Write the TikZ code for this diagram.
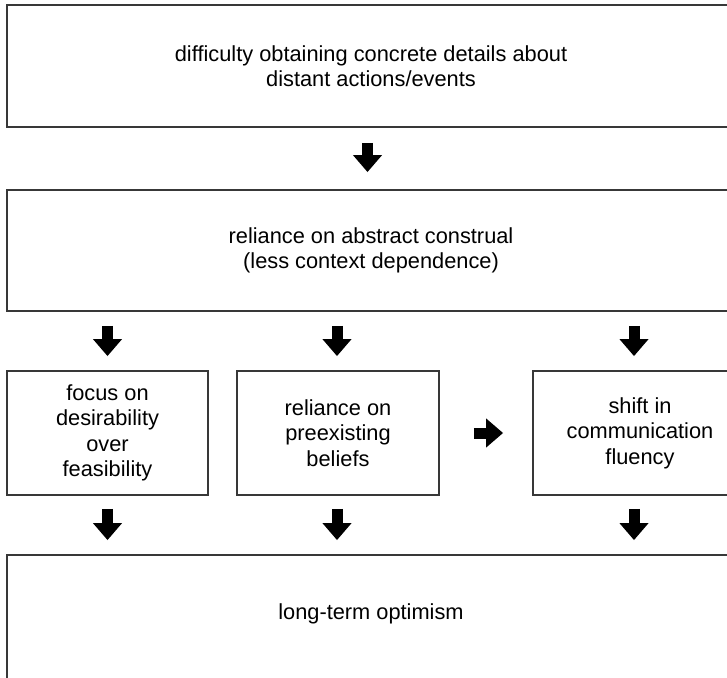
\documentclass[tikz,border=0pt]{standalone}
\usepackage{fontspec}
\setmainfont{Liberation Sans}
\usetikzlibrary{arrows.meta}
\tikzset{
  box/.style={draw=black!78, line width=1.8pt, rectangle, align=center, inner sep=0pt,
    font=\fontsize{21.8}{25.5}\selectfont},
  txt/.style={align=center, inner sep=0pt, font=\fontsize{21.8}{25.5}\selectfont},
  bigarrow/.style={draw=black, line width=11pt, line cap=butt,
    -{Triangle[width=28pt,length=17pt]}}
}
\begin{document}
\begin{tikzpicture}[x=1pt,y=-1pt]
\useasboundingbox (0,0) rectangle (727,677);
\node[box, minimum width=728pt, minimum height=122pt] (b1) at (371,66)
  {difficulty obtaining concrete details about\\distant actions/events};
\node[box, minimum width=728pt, minimum height=121pt] (b2) at (371,250.5)
  {reliance on abstract construal\\(less context dependence)};
\node[box, minimum width=201pt, minimum height=124pt] (b3) at (107.5,433)
  {focus on\\desirability\\over\\feasibility};
\node[box, minimum width=202pt, minimum height=124pt] (b4) at (338,433)
  {reliance on\\preexisting\\beliefs};
\node[box, minimum width=214pt, minimum height=124pt] (b5) at (640,433)
  {shift in\\communication\\fluency};
\node[box, minimum width=728pt, minimum height=140pt] (b6) at (371,625) {};
\node[txt] (t6) at (371,614) {long-term optimism};
% arrows
\draw[bigarrow, shorten <=15pt, shorten >=17pt] ([xshift=-3.5pt]b1.south) -- ([xshift=-3.5pt]b2.north);
\draw[bigarrow, shorten <=14pt, shorten >=14pt] (b3.north |- b2.south) -- (b3.north);
\draw[bigarrow, shorten <=14pt, shorten >=14pt] ([xshift=-1pt]b4.north |- b2.south) -- ([xshift=-1pt]b4.north);
\draw[bigarrow, shorten <=14pt, shorten >=14pt] ([xshift=-6pt]b5.north |- b2.south) -- ([xshift=-6pt]b5.north);
\draw[bigarrow, shorten <=13pt, shorten >=14pt] (b3.south) -- (b3.south |- b6.north);
\draw[bigarrow, shorten <=13pt, shorten >=14pt] ([xshift=-1pt]b4.south) -- ([xshift=-1pt]b4.south |- b6.north);
\draw[bigarrow, shorten <=13pt, shorten >=14pt] ([xshift=-6pt]b5.south) -- ([xshift=-6pt]b5.south |- b6.north);
\draw[bigarrow, shorten <=34pt, shorten >=29pt] (b4.east) -- (b5.west);
\end{tikzpicture}
\end{document}
